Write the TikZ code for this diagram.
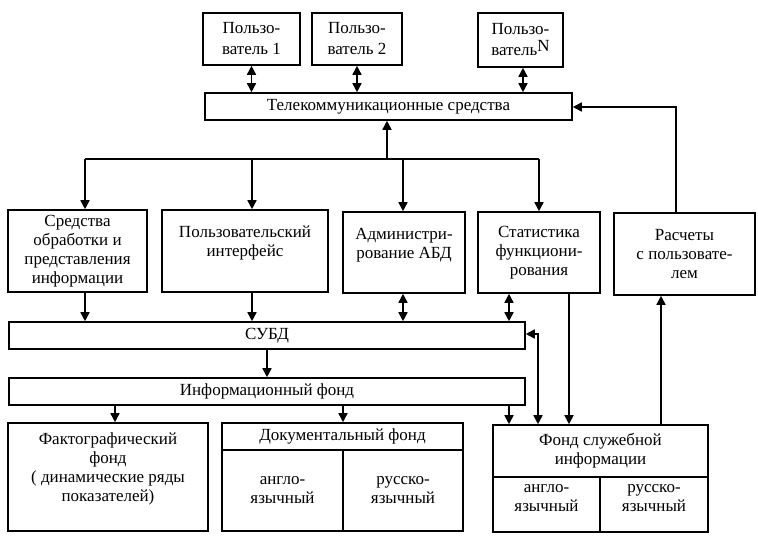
\documentclass[tikz,border=0pt]{standalone}
\usepackage{fontspec}
\setmainfont{Liberation Serif}
\usetikzlibrary{arrows.meta,calc}
\begin{document}
\begin{tikzpicture}[x=1pt,y=-1pt,
  box/.style={draw,line width=1.6pt,inner sep=0pt,align=center,font=\fontsize{17}{19}\selectfont},
  ubox/.style={box,font=\fontsize{17}{21}\selectfont},
  arr/.style={line width=1.6pt,-{Triangle[length=9pt,width=9pt]}},
  darr/.style={line width=1.6pt,{Triangle[length=9pt,width=9pt]}-{Triangle[length=9pt,width=9pt]}},
  ln/.style={line width=1.6pt}]
\useasboundingbox (0,0) rectangle (758,543);
% users
\node[ubox,minimum width=97pt,minimum height=52pt] (u1) at (251.5,39) {Пользо-\\ватель 1};
\node[ubox,minimum width=90pt,minimum height=52pt] (u2) at (357,39) {Пользо-\\ватель 2};
\node[ubox,minimum width=85pt,minimum height=54pt] (uN) at (520.5,40) {Пользо-\\ватель\raisebox{4pt}{N}};
% telecom
\node[box,minimum width=367pt,minimum height=27pt] (tel) at (388.5,106.5) {Телекоммуникационные средства};
% middle row
\node[box,minimum width=139pt,minimum height=82pt] (b1) at (77.5,251) {Средства\\обработки и\\представления\\информации};
\node[box,minimum width=166pt,minimum height=82pt] (b2) at (245,251) {Пользовательский\\интерфейс\\\mbox{}};
\node[box,minimum width=122pt,minimum height=81pt] (b3) at (404,252.5) {Администри-\\рование АБД\\\mbox{}};
\node[box,minimum width=122pt,minimum height=81pt] (b4) at (539,252.5) {Статистика\\функциони-\\рования};
\node[box,minimum width=141pt,minimum height=82pt] (b5) at (684.5,254) {Расчеты\\с пользовате-\\лем};
% bars
\node[box,minimum width=516pt,minimum height=27pt] (subd) at (267,335.5) {СУБД};
\node[box,minimum width=516pt,minimum height=27pt] (info) at (267,391.5) {Информационный фонд};
% bottom row
\node[box,minimum width=200pt,minimum height=108pt] (fakt) at (108,477) {Фактографический\\фонд\\( динамические ряды\\показателей)\\\mbox{}};
\node[box,minimum width=241pt,minimum height=27pt] (doch) at (342.5,436.5) {Документальный фонд};
\node[box,minimum width=121pt,minimum height=81pt] (doca) at (282.5,490.5) {англо-\\язычный};
\node[box,minimum width=120pt,minimum height=81pt] (docr) at (403,490.5) {русско-\\язычный};
\node[box,minimum width=215pt,minimum height=52pt] (fslh) at (600.5,451) {Фонд служебной\\информации};
\node[box,minimum width=107pt,minimum height=55pt] (fsla) at (546.5,504.5) {англо-\\язычный\\[-6pt]\mbox{}};
\node[box,minimum width=108pt,minimum height=55pt] (fslr) at (654,504.5) {русско-\\язычный\\[-6pt]\mbox{}};
% coordinates
\coordinate (k0) at (387,159);
\coordinate (k1) at (85,159);
\coordinate (k2) at (252,159);
\coordinate (k3) at (403,159);
\coordinate (k4) at (539,159);
\coordinate (x509) at (509,360);
\coordinate (x569) at (569,360);
\coordinate (j) at (538,334);
\coordinate (x115) at (115,415);
\coordinate (x343) at (343,415);
\coordinate (x661) at (661,360);
\coordinate (r) at (676,107);
% users <-> telecom
\draw[darr] (u1.south) -- (u1.south |- tel.north);
\draw[darr] (u2.south) -- (u2.south |- tel.north);
\draw[darr] ([xshift=2.5pt]uN.south) -- ([xshift=2.5pt]uN.south |- tel.north);
% telecom branch
\draw[arr] (k0) -- (k0 |- tel.south);
\draw[ln] (k1) -- (k4);
\draw[arr] (k1) -- (k1 |- b1.north);
\draw[arr] (k2) -- (k2 |- b2.north);
\draw[arr] (k3) -- (k3 |- b3.north);
\draw[arr] (k4) -- (k4 |- b4.north);
% middle row -> SUBD
\draw[arr] (k1 |- b1.south) -- (k1 |- subd.north);
\draw[arr] (k2 |- b2.south) -- (k2 |- subd.north);
\draw[darr] (k3 |- b3.south) -- (k3 |- subd.north);
\draw[darr] (x509 |- b4.south) -- (x509 |- subd.north);
\draw[arr] (x569 |- b4.south) -- (x569 |- fslh.north);
% SUBD -> info
\draw[arr] (subd.south) -- (info.north);
% info -> bottom
\draw[arr] (x115 |- info.south) -- (x115 |- fakt.north);
\draw[arr] (x343 |- info.south) -- (x343 |- doch.north);
\draw[arr] (x509 |- info.south) -- (x509 |- fslh.north);
% fund <-> SUBD
\draw[darr] (j |- fslh.north) -- (j) -- (j -| subd.east);
% fund -> payments
\draw[arr] (x661 |- fslh.north) -- (x661 |- b5.south);
% payments -> telecom
\draw[arr] (r |- b5.north) -- (r) -- (r -| tel.east);
\end{tikzpicture}
\end{document}
